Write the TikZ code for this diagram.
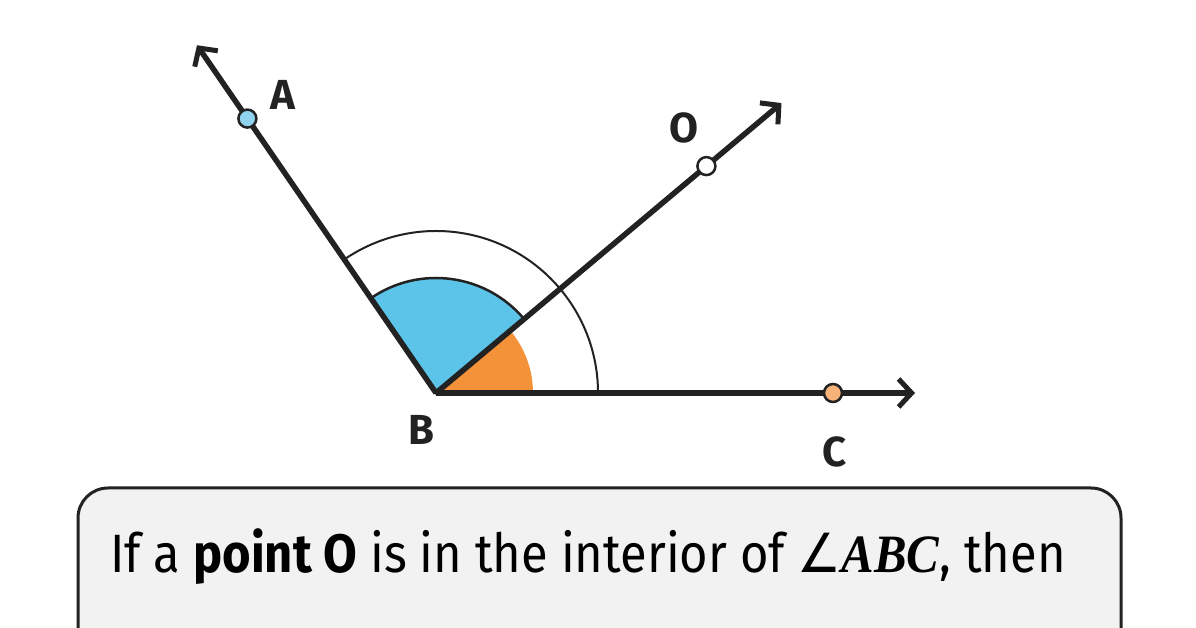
\documentclass[tikz,border=0pt]{standalone}
\usepackage{fontspec}
\setmainfont{Fira Sans}
\newfontfamily\serifbi{Liberation Serif}
\newfontfamily\symfont{DejaVu Sans}
\usetikzlibrary{arrows.meta,calc}
\definecolor{ink}{HTML}{222222}
\definecolor{skyblue}{HTML}{5BC4E8}
\definecolor{dotblue}{HTML}{8FD3EE}
\definecolor{sectorange}{HTML}{F4923A}
\definecolor{dotorange}{HTML}{F7B27A}
\definecolor{boxgray}{HTML}{F2F2F2}

\begin{document}
\begin{tikzpicture}[x=1pt,y=1pt,
  ray/.style={ink,line width=5.5pt,-{Straight Barb[length=13pt,width=28pt,line width=5pt]}},
  dot/.style={circle,draw=ink,line width=2.5pt,minimum size=18pt,inner sep=0pt},
  lbl/.style={font=\fontsize{42}{42}\selectfont\bfseries,text=ink}]
\useasboundingbox (0,0) rectangle (1196,628);
\fill[white] (0,0) rectangle (1196,628);

\coordinate (B) at (436,235);
\coordinate (Aend) at ($(B)+(124.5:422)$);
\coordinate (Oend) at ($(B)+(40:451)$);
\coordinate (Cend) at ($(B)+(479,0)$);

% angle marks
\fill[sectorange] (B) -- ++(0:97) arc (0:40:97) -- cycle;
\draw[ink,line width=2.5pt,fill=skyblue] (B) -- ++(40:115) arc (40:124.5:115) -- cycle;
\draw[ink,line width=2pt] ($(B)+(0:162)$) arc (0:124.5:162);

% rays
\draw[ray] (B) -- (Aend);
\draw[ray] (B) -- (Oend);
\draw[ray] (B) -- (Cend);

% points
\node[dot,fill=dotblue] (A) at ($(B)+(124.5:333)$) {};
\node[dot,fill=white] (O) at ($(B)+(40:353)$) {};
\node[dot,fill=dotorange] (C) at ($(B)+(397,0)$) {};

\node[lbl] (labA) at (283,533) {A};
\node[lbl] (labO) at (684,500) {O};
\node[lbl] (labB) at (421,198) {B};
\node[lbl] (labC) at (835,176) {C};

% statement box
\draw[ink,line width=3pt,fill=boxgray,rounded corners=30pt] (78,-60) rectangle (1121,140);
\node[anchor=base west,inner sep=0pt,font=\fontsize{54}{60}\selectfont] (txt) at (110,55)
  {\scalebox{0.905}[1]{If a \textbf{point O} is in the interior of {\symfont ∠}{\serifbi\bfseries\itshape ABC}, then}};
\end{tikzpicture}
\end{document}
